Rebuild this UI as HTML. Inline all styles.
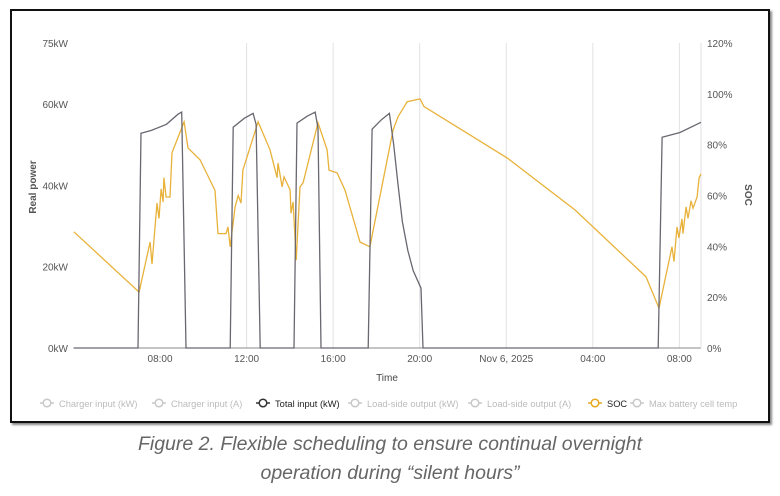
<!DOCTYPE html>
<html><head><meta charset="utf-8"><style>
body{margin:0;background:#fff;width:780px;height:496px;overflow:hidden;font-family:"Liberation Sans",sans-serif}
#frame{position:absolute;left:10px;top:9px;width:756px;height:410px;border:2px solid #111;box-shadow:2px 2px 2px #888;background:#fff}
#cap{position:absolute;left:0;top:430px;width:780px;text-align:center;font-style:italic;color:#666;font-size:19.5px;line-height:29px;font-family:"Liberation Sans",sans-serif;font-weight:300}
svg{position:absolute;left:0;top:0}
</style></head><body>
<div id="frame"></div>
<svg id="chart" width="780" height="430"></svg>
<div id="cap">Figure 2. Flexible scheduling to ensure continual overnight<br>operation during “silent hours”</div>
<script>
const xTickHours=[4,8,12,16,20,24,28];
const xTickLabels=["","08:00","12:00","16:00","20:00","Nov 6, 2025","04:00","08:00"];
const powerTicks=[0,20,40,60,75];
const powerTickLabels=["0kW","20kW","40kW","60kW","75kW"];
const socTicks=[0,20,40,60,80,100,120];
const totalTimes=[0,2.98,3.12,3.6,4.3,4.83,5.0,5.2,7.24,7.38,7.9,8.3,8.44,8.63,10.19,10.33,10.8,11.17,11.3,11.44,13.62,13.8,14.2,14.6,14.8,15.0,15.2,15.45,15.7,16.06,16.15,27.02,27.2,28.03,29.0];
const totalValues=[0,0,52.8,53.5,55,57.5,58,0,0,54.3,56.5,57.7,55,0,0,55.3,57,58,54,0,0,53.8,56,57.7,50,40,31,24,19,14.7,0,0,51.8,53,55.5];
const socTimes=[0.02,3.03,3.54,3.63,3.86,3.95,4.05,4.14,4.18,4.28,4.46,4.55,5.11,5.29,5.85,6.54,6.68,7.05,7.14,7.24,7.47,7.61,7.74,7.83,8.53,9.08,9.41,9.45,9.64,9.73,10.01,10.05,10.15,10.29,10.47,10.61,11.3,11.72,11.81,12.18,12.55,13.24,13.7,14.77,15.0,15.42,16.02,16.2,20.04,23.18,26.46,27.06,27.66,27.75,27.89,27.98,28.12,28.17,28.31,28.4,28.54,28.63,28.82,28.91,29.0];
const socValues=[45.7,22,41.7,33,57,51,62.6,57.5,67,59.4,59.4,76.8,89,78.7,74,62,45,45,47.6,39.8,55.5,60,57,70,89,78,67,72.8,63.4,67.3,62.2,53,57.5,34.6,63.4,65,88.6,78,70,68.9,62,41.7,39.8,85.8,91,96.9,98,95,74.8,54.3,28,15.7,39.8,34,47.6,43.3,50.8,45,55.5,51,57.9,55,59.4,67,68.5];

const NS="http://www.w3.org/2000/svg";
const svg=document.getElementById('chart');
const L=73.5,R=701,T=43,B=348,HMAX=29.0;
const x=h=>L+(R-L)*h/HMAX;
const yP=v=>B-(B-T)*v/75;
const yS=v=>B-(B-T)*v/120;
function mk(tag,attrs,parent){const e=document.createElementNS(NS,tag);for(const k in attrs)e.setAttribute(k,attrs[k]);(parent||svg).appendChild(e);return e;}
function txt(s,attrs){const e=mk('text',attrs);e.textContent=s;return e;}
xTickHours.forEach((h,i)=>{
  if(i>0){const g=mk('line',{x1:x(h),x2:x(h),y1:T,y2:B,stroke:'#e2e2e6','stroke-width':1});
  
  }
  const t=txt(xTickLabels[i+1],{x:x(h),y:362,'text-anchor':'middle','font-size':10,fill:'#555'});
  
  
});
powerTicks.forEach((v,i)=>{
  const t=txt(powerTickLabels[i],{x:68,y:yP(v)+4,'text-anchor':'end','font-size':10,fill:'#555'});
  
  
});
socTicks.forEach(v=>{
  const t=txt(v+'%',{x:707,y:yS(v)+4,'font-size':10,fill:'#555'});
  
  
});
const ax=mk('line',{x1:L,x2:R,y1:B,y2:B,stroke:'#888','stroke-width':1});


const ra=mk('line',{x1:R,x2:R,y1:T,y2:B,stroke:'#e2e2e6','stroke-width':1});


let t=txt('Time',{x:387,y:381,'text-anchor':'middle','font-size':10,fill:'#444'});


t=txt('Real power',{x:0,y:0,'text-anchor':'middle','font-size':10,'font-weight':'bold',fill:'#555',transform:'translate(36,187) rotate(-90)'});


t=txt('SOC',{x:0,y:0,'text-anchor':'middle','font-size':10,'font-weight':'bold',fill:'#555',transform:'translate(745,195) rotate(90)'});


const pS=socTimes.map((h,i)=>x(h).toFixed(1)+','+yS(socValues[i]).toFixed(1)).join(' ');
const soc=mk('polyline',{points:pS,fill:'none',stroke:'#e8b23a','stroke-width':1.3});


const pT=totalTimes.map((h,i)=>x(h).toFixed(1)+','+yP(totalValues[i]).toFixed(1)).join(' ');
const tot=mk('polyline',{points:pT,fill:'none',stroke:'#6a6770','stroke-width':1.3});


const legNames=["Charger input (kW)","Charger input (A)","Total input (kW)","Load-side output (kW)","Load-side output (A)","SOC","Max battery cell temp"];
const legX=[40,152,256,348,468,588,630];
const legCol=["#c8c8c8","#c8c8c8","#333","#c8c8c8","#c8c8c8","#e8a820","#c8c8c8"];
const legTxt=["#bbb","#bbb","#222","#bbb","#bbb","#222","#bbb"];
legNames.forEach((n,i)=>{
  const g=mk('g',{});
  
  
  mk('line',{x1:legX[i],x2:legX[i]+14,y1:403,y2:403,stroke:legCol[i],'stroke-width':1.5},g);
  mk('circle',{cx:legX[i]+7,cy:403,r:3.8,fill:'#fff',stroke:legCol[i],'stroke-width':1.5},g);
  const tt=mk('text',{x:legX[i]+19,y:407,'font-size':9.3,fill:legTxt[i]},g);tt.textContent=n;
});
</script>
</body></html>
